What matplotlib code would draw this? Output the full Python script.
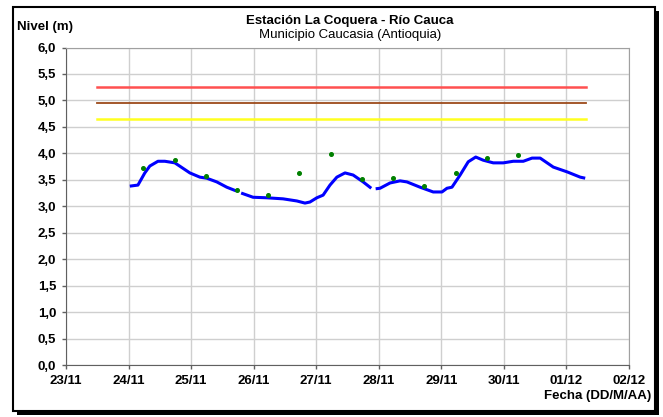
import matplotlib
matplotlib.use('Agg')
import matplotlib.pyplot as plt
from matplotlib.patches import Rectangle

plt.rcParams['font.family'] = ['Liberation Sans Narrow', 'Liberation Sans', 'DejaVu Sans']

# days since 23/11 00:00
tick_labels = ['23/11', '24/11', '25/11', '26/11', '27/11', '28/11', '29/11', '30/11', '01/12', '02/12']

# water level (hourly-ish trace), three segments with gaps
seg1_t = [1.02, 1.15, 1.26, 1.34, 1.47, 1.58, 1.74, 1.98, 2.14, 2.25, 2.41, 2.57, 2.72]
seg1_v = [3.38, 3.40, 3.63, 3.76, 3.85, 3.85, 3.82, 3.63, 3.55, 3.53, 3.46, 3.36, 3.29]
seg2_t = [2.80, 2.99, 3.21, 3.47, 3.69, 3.82, 3.90, 4.01, 4.11, 4.22, 4.33, 4.46, 4.59, 4.75, 4.88]
seg2_v = [3.25, 3.17, 3.16, 3.14, 3.10, 3.06, 3.08, 3.16, 3.21, 3.40, 3.55, 3.63, 3.59, 3.46, 3.34]
seg3_t = [4.95, 5.02, 5.18, 5.34, 5.45, 5.66, 5.87, 6.01, 6.09, 6.17, 6.30, 6.43, 6.55, 6.67,
          6.83, 6.99, 7.15, 7.31, 7.45, 7.58, 7.79, 8.01, 8.22, 8.30]
seg3_v = [3.33, 3.34, 3.44, 3.48, 3.46, 3.36, 3.27, 3.27, 3.34, 3.36, 3.59, 3.84, 3.93, 3.87,
          3.82, 3.82, 3.85, 3.85, 3.91, 3.91, 3.74, 3.65, 3.55, 3.53]

# manual readings
obs_t = [1.23, 1.74, 2.24, 2.73, 3.23, 3.73, 4.24, 4.73, 5.23, 5.73, 6.23, 6.73, 7.23]
obs_v = [3.72, 3.87, 3.57, 3.31, 3.21, 3.62, 3.99, 3.51, 3.53, 3.38, 3.63, 3.91, 3.97]

# alert levels
lvl_start, lvl_end = 0.49, 8.32
red_lvl = 5.25
orange_lvl = 4.96
yellow_lvl = 4.65

fig = plt.figure(figsize=(6.63, 4.17), dpi=100)
W, H = 663, 417

# frame with drop shadow
fig.patches.append(Rectangle((17 / W, 1 - 415 / H), 642 / W, 404 / H, transform=fig.transFigure,
                             facecolor='black', edgecolor='none', zorder=0))
fig.patches.append(Rectangle((13 / W, 1 - 411 / H), 642 / W, 404 / H, transform=fig.transFigure,
                             facecolor='white', edgecolor='black', linewidth=1.5, zorder=1))

ax = fig.add_axes([66 / W, 1 - 365 / H, (629 - 66) / W, (365 - 47.5) / H])
ax.set_zorder(2)

ax.plot([lvl_start, lvl_end], [red_lvl, red_lvl], color='#FF5050', lw=1.8)
ax.plot([lvl_start, lvl_end], [orange_lvl, orange_lvl], color='#9C4A1A', lw=1.3)
ax.plot([lvl_start, lvl_end], [yellow_lvl, yellow_lvl], color='#FFFF20', lw=1.8)

for t, v in [(seg1_t, seg1_v), (seg2_t, seg2_v), (seg3_t, seg3_v)]:
    ax.plot(t, v, color='#0000FF', lw=2.2, solid_capstyle='butt', solid_joinstyle='round')
ax.plot(obs_t, obs_v, 'o', color='#008000', ms=2.6, mec='#008000')

ax.set_xlim(0, 9)
ax.set_ylim(0, 6)
ax.set_xticks(range(10))
ax.set_xticklabels(tick_labels)
yt = [i * 0.5 for i in range(13)]
ax.set_yticks(yt)
ax.set_yticklabels([('%.1f' % v).replace('.', ',') for v in yt])
ax.grid(True, color='#CFCFCF', lw=1.0)
ax.set_axisbelow(True)
for s in ['top', 'right']:
    ax.spines[s].set_color('#A0A0A0')
for s in ['left', 'bottom']:
    ax.spines[s].set_color('#606060')
ax.tick_params(direction='out', length=3, width=1, color='#606060', pad=4,
               labelsize=9.5)
for lab in ax.get_xticklabels() + ax.get_yticklabels():
    lab.set_fontweight('bold')

fig.text(350 / W, 1 - 21 / H, 'Estación La Coquera - Río Cauca', ha='center', va='center',
         fontsize=9.5, fontweight='bold')
fig.text(350 / W, 1 - 35 / H, 'Municipio Caucasia (Antioquia)', ha='center', va='center',
         fontsize=9.5)
fig.text(17 / W, 1 - 27 / H, 'Nivel (m)', ha='left', va='center', fontsize=9.5, fontweight='bold')
fig.text(651 / W, 1 - 396 / H, 'Fecha (DD/M/AA)', ha='right', va='center', fontsize=9.5,
         fontweight='bold')

fig.savefig('out.png', dpi=100)
